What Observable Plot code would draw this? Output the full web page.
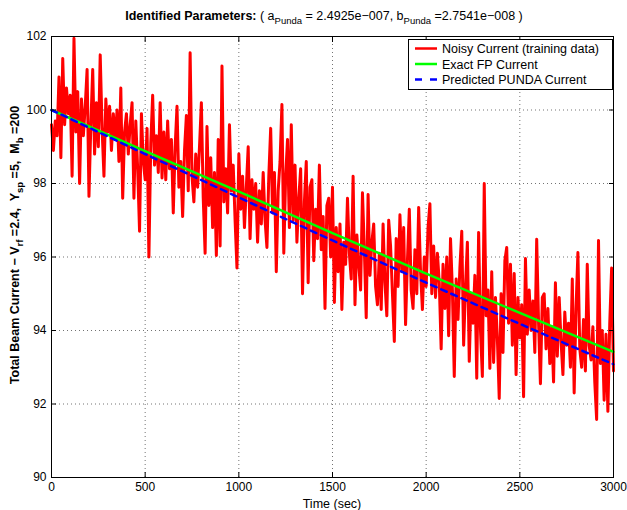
<!DOCTYPE html>
<html><head><meta charset="utf-8">
<script src="https://cdn.jsdelivr.net/npm/d3@7"></script>
<script src="https://cdn.jsdelivr.net/npm/@observablehq/plot@0.6"></script>
<style>
body{margin:0;background:#fff}
svg{font-family:"Liberation Sans",Arial,Helvetica,sans-serif}
</style>
</head><body><div id="chart"></div>
<script>
// Noisy current (training data), one sample every 10 s from 0 to 3000 s
const sampleStep = 10;
const noisyCurrent = [
 99.6,98.9,99.7,99.3,100.9,98.7,101.4,99.6,100.6,99.9,
 100.4,98.2,101.95,99.4,100.5,98.0,100.3,99.3,100.1,101.1,
 97.65,99.6,101.1,98.8,100.2,99.0,101.5,99.5,98.2,100.3,
 99.4,100.1,98.9,99.9,99.2,100.0,98.6,100.6,97.6,99.4,
 99.9,98.8,99.6,100.2,97.6,99.7,98.4,96.7,99.9,98.6,
 98.1,99.5,96.0,99.1,100.4,98.5,99.3,98.3,100.2,98.15,
 99.4,98.1,99.7,98.4,99.2,97.2,99.0,100.1,97.9,98.6,
 97.1,98.9,99.85,97.8,101.56,98.2,97.5,98.8,97.9,99.0,
 100.2,97.6,96.1,99.55,97.4,98.7,96.8,98.3,96.04,99.2,
 96.3,101.2,97.5,98.4,97.2,99.6,97.8,98.5,97.0,95.7,
 98.8,97.3,98.2,96.8,97.9,99.0,96.5,98.1,97.3,98.0,
 96.4,97.8,96.9,98.3,97.0,96.26,98.2,99.5,97.2,98.3,
 95.6,97.8,98.6,100.15,96.1,98.2,99.2,96.8,99.6,97.0,
 98.5,96.4,97.6,98.4,95.0,97.5,98.6,95.3,97.9,98.1,
 95.9,97.3,96.5,98.5,96.2,97.1,94.6,97.4,97.6,96.0,
 97.9,94.76,96.8,95.6,96.9,94.57,96.4,95.8,97.6,96.1,
 95.4,98.2,94.7,96.6,95.8,95.1,97.75,96.2,94.35,97.7,
 95.5,96.4,96.9,95.2,94.7,96.1,94.57,96.9,95.3,94.4,
 97.0,96.3,95.0,93.7,96.5,95.2,97.15,95.6,96.8,94.16,
 95.9,97.3,95.1,94.6,96.2,95.0,97.35,95.6,94.57,96.0,
 95.2,96.8,97.45,95.0,96.3,94.9,96.1,95.3,93.5,95.8,
 94.6,96.0,93.86,96.5,95.1,92.75,95.4,94.3,95.7,96.7,
 93.6,95.2,96.4,93.16,95.0,94.2,95.5,92.7,96.67,94.0,
 92.75,98.0,94.4,95.1,92.97,95.6,93.13,94.9,93.8,92.15,
 95.0,93.4,95.9,96.26,94.2,95.8,93.6,95.55,92.8,94.9,
 93.8,94.7,92.2,95.96,93.9,95.1,94.0,94.8,93.4,96.48,
 94.2,92.55,94.9,95.0,93.5,94.6,93.1,94.1,92.6,95.3,
 93.3,94.9,93.7,92.8,94.5,93.6,94.2,93.0,95.4,92.3,
 94.6,96.12,93.5,93.0,94.3,92.9,95.8,93.6,93.2,94.1,
 92.6,91.58,96.45,93.1,94.0,92.1,93.9,91.8,94.2,95.7,
 92.9
];
const lineTimes = [0, 500, 1000, 1500, 2000, 2500, 3000];
const exactFP = [100, 98.88, 97.78, 96.65, 95.55, 94.48, 93.42];
const predictedPUNDA = [100, 98.8, 97.62, 96.45, 95.3, 94.18, 93.08];
const xTicks = [0, 500, 1000, 1500, 2000, 2500, 3000];
const yTicks = [90, 92, 94, 96, 98, 100, 102];
const legendLabels = ["Noisy Current (training data)", "Exact FP Current", "Predicted PUNDA Current"];
const legendColors = ["#ff0000", "#00ff00", "#0000ff"];

const noisy = noisyCurrent.map((v, i) => ({t: i * sampleStep, v}));
const exact = lineTimes.map((t, i) => ({t, v: exactFP[i]}));
const pred = lineTimes.map((t, i) => ({t, v: predictedPUNDA[i]}));

const gridStyle = {stroke: "#000", strokeOpacity: 0.55, strokeDasharray: "1,3"};
const chart = Plot.plot({
  width: 627, height: 510,
  marginLeft: 51, marginRight: 14, marginTop: 36, marginBottom: 33,
  style: {fontFamily: '"Liberation Sans",Arial,sans-serif', fontSize: "12px", background: "#fff", color: "#000", overflow: "visible"},
  x: {domain: [0, 3000], label: null},
  y: {domain: [90, 102], label: null},
  marks: [
    Plot.gridX(xTicks, gridStyle),
    Plot.gridY(yTicks, gridStyle),
    Plot.line(noisy, {x: "t", y: "v", stroke: legendColors[0], strokeWidth: 3, strokeLinejoin: "round"}),
    Plot.line(exact, {x: "t", y: "v", stroke: legendColors[1], strokeWidth: 2.5}),
    Plot.line(pred, {x: "t", y: "v", stroke: legendColors[2], strokeWidth: 2.5, strokeDasharray: "6,5"}),
    Plot.axisX(xTicks, {anchor: "bottom", tickSize: 0, tickPadding: 5, fontSize: 12, tickFormat: d3.format("d")}),
    Plot.axisY(yTicks, {anchor: "left", tickSize: 0, tickPadding: 5, fontSize: 12, tickFormat: d3.format("d")}),
    Plot.axisX(xTicks, {anchor: "bottom", tickSize: -5, tickFormat: () => ""}),
    Plot.axisX(xTicks, {anchor: "top", tickSize: -5, tickFormat: () => ""}),
    Plot.axisY(yTicks, {anchor: "left", tickSize: -5, tickFormat: () => ""}),
    Plot.axisY(yTicks, {anchor: "right", tickSize: -5, tickFormat: () => ""}),
    Plot.frame({stroke: "#000", strokeWidth: 1})
  ]
});
document.getElementById("chart").appendChild(chart);

const svg = d3.select(chart);
// Title
const title = svg.append("text").attr("x", 324).attr("y", 20).attr("text-anchor", "middle")
  .style("font-size", "12.5px").attr("fill", "#000");
title.append("tspan").attr("font-weight", "bold").text("Identified Parameters: ");
title.append("tspan").text("( a");
title.append("tspan").attr("dy", 4).style("font-size", "9.5px").text("Punda");
title.append("tspan").attr("dy", -4).text(" = 2.4925e\u2212007, b");
title.append("tspan").attr("dy", 4).style("font-size", "9.5px").text("Punda");
title.append("tspan").attr("dy", -4).text(" =2.7541e\u2212008 )");

// X label
svg.append("text").attr("x", 332).attr("y", 508).attr("text-anchor", "middle")
  .style("font-size", "12.5px").text("Time (sec)");

// Y label
const yl = svg.append("text").attr("transform", "translate(19,245) rotate(-90)").attr("text-anchor", "middle")
  .attr("font-weight", "bold").style("font-size", "12.5px");
yl.append("tspan").text("Total Beam Current \u2212 V");
yl.append("tspan").attr("dy", 4).style("font-size", "9.5px").text("rf");
yl.append("tspan").attr("dy", -4).text(" =2.4,  Y");
yl.append("tspan").attr("dy", 4).style("font-size", "9.5px").text("sp");
yl.append("tspan").attr("dy", -4).text(" =5,  M");
yl.append("tspan").attr("dy", 4).style("font-size", "9.5px").text("b");
yl.append("tspan").attr("dy", -4).text(" =200");

// Legend
const lg = svg.append("g").attr("text-anchor", "start");
lg.append("rect").attr("x", 408.5).attr("y", 39.5).attr("width", 204).attr("height", 50)
  .attr("fill", "#fff").attr("stroke", "#000");
legendLabels.forEach((lab, i) => {
  const yy = 48.5 + i * 15.5;
  lg.append("line").attr("x1", 415).attr("x2", 437).attr("y1", yy).attr("y2", yy)
    .attr("stroke", legendColors[i]).attr("stroke-width", 2.5)
    .attr("stroke-dasharray", i === 2 ? "7,8" : null);
  lg.append("text").attr("x", 442).attr("y", yy + 4.5).attr("text-anchor", "start")
    .style("font-size", "12.5px").text(lab);
});
</script></body></html>
